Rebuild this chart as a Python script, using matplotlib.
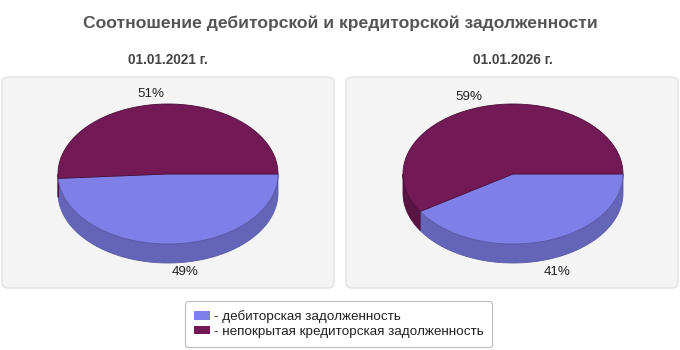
import numpy as np
import matplotlib.pyplot as plt
from matplotlib.patches import Polygon, FancyBboxPatch, Patch

plt.rcParams['font.family'] = ['Liberation Sans', 'DejaVu Sans']

title = 'Соотношение дебиторской и кредиторской задолженности'
dates = ['01.01.2021 г.', '01.01.2026 г.']
debit = [49, 41]
credit = [51, 59]
names = ['- дебиторская задолженность', '- непокрытая кредиторская задолженность']

top_col = ['#7f7fe8', '#731a56']
side_col = ['#6464b8', '#5a1443']
edge_col = ['#5a5aa8', '#4a0f38']

fig = plt.figure(figsize=(6.8, 3.5), dpi=100)
ax = fig.add_axes([0, 0, 1, 1])
ax.set_xlim(0, 680)
ax.set_ylim(350, 0)
ax.axis('off')

rx, ry, depth = 110, 70, 19


def arc(cx, cy, a0, a1, dy=0):
    t = np.linspace(a0, a1, max(int(abs(a1 - a0) * 60), 2))
    return np.column_stack([cx + rx * np.cos(t), cy + ry * np.sin(t) + dy])


def draw_pie(cx, cy, vals):
    fr = np.array(vals, float) / sum(vals)
    bounds = np.concatenate([[0], np.cumsum(fr)]) * 2 * np.pi
    # side walls (front half only)
    for i in range(len(vals)):
        a0, a1 = max(bounds[i], 0), min(bounds[i + 1], np.pi)
        if a1 > a0:
            up = arc(cx, cy, a0, a1)
            dn = arc(cx, cy, a0, a1, depth)[::-1]
            ax.add_patch(Polygon(np.vstack([up, dn]), closed=True, fc=side_col[i],
                                 ec=edge_col[i], lw=0.6))
    # tops
    for i in range(len(vals)):
        pts = np.vstack([[cx, cy], arc(cx, cy, bounds[i], bounds[i + 1])])
        ax.add_patch(Polygon(pts, closed=True, fc=top_col[i], ec=edge_col[i], lw=0.6))
    # labels
    for i in range(len(vals)):
        m = (bounds[i] + bounds[i + 1]) / 2
        x = cx + rx * np.cos(m)
        if np.sin(m) > 0:
            y = cy + ry + depth + 9
        else:
            y = cy - ry * 1.15 * abs(np.sin(m))
        ax.text(x, y, f'{vals[i]}%', ha='left' if np.cos(m) > 0 else 'right',
                va='center', fontsize=9.6, color='#222222')


ax.text(340, 23, title, ha='center', va='center', fontsize=12.6,
        fontweight='bold', color='#555555')

centers = [168, 513]
boxes = [(2, 334), (346, 678)]
for k in range(2):
    x0, x1 = boxes[k]
    ax.add_patch(FancyBboxPatch((x0 + 4, 81), x1 - x0 - 8, 203,
                                boxstyle='round,pad=4,rounding_size=6',
                                fc='#f4f4f4', ec='#e2e2e2', lw=1))
    ax.text(centers[k], 60, dates[k], ha='center', va='center', fontsize=9.8,
            fontweight='bold', color='#444444')
    draw_pie(centers[k], 174, [debit[k], credit[k]])

handles = [Patch(fc=top_col[0], ec='none'), Patch(fc=top_col[1], ec='none')]
leg = ax.legend(handles, names, loc='center', bbox_to_anchor=(338.5 / 680, 1 - 324 / 350),
                frameon=True, fancybox=True, edgecolor='#bbbbbb', facecolor='white',
                fontsize=9.7, handlelength=1.2, handleheight=0.6, handletextpad=0.3,
                labelspacing=0.2, borderpad=0.65, framealpha=1)
leg.get_frame().set_linewidth(0.8)
for t in leg.get_texts():
    t.set_color('#222222')

fig.savefig('out.png', dpi=100)
